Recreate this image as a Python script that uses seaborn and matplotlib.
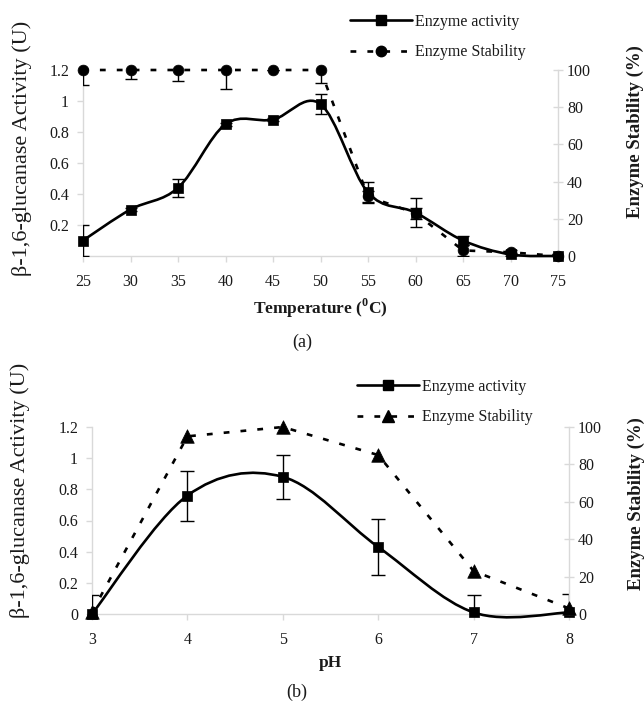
import numpy as np
import pandas as pd
import matplotlib
matplotlib.use("Agg")
import matplotlib.pyplot as plt
from matplotlib.path import Path
from matplotlib.patches import PathPatch
from matplotlib.lines import Line2D
import seaborn as sns

# ---------------- data ----------------
temp = [25, 30, 35, 40, 45, 50, 55, 60, 65, 70, 75]
temp_activity = [0.10, 0.30, 0.44, 0.85, 0.88, 0.98, 0.41, 0.28, 0.10, 0.01, 0.0]
temp_activity_err = [0.10, 0.01, 0.06, 0.01, 0.01, 0.065, 0.065, 0.095, 0.03, 0.01, 0.01]
temp_stability = [100, 100, 100, 100, 100, 100, 32, 23, 3, 2, 0]
temp_stability_err = [8, 5, 6, 10, 0, 7, 3, 3, 3, 1, 1]

ph = [3, 4, 5, 6, 7, 8]
ph_activity = [0.0, 0.76, 0.88, 0.43, 0.01, 0.01]
ph_activity_err = [0.12, 0.16, 0.14, 0.18, 0.11, 0.12]
ph_stability = [1, 95, 100, 85, 23, 3]

act_ticks_a = [0.2, 0.4, 0.6, 0.8, 1.0, 1.2]
act_labels_a = ["0.2", "0.4", "0.6", "0.8", "1", "1.2"]
act_ticks_b = [0, 0.2, 0.4, 0.6, 0.8, 1.0, 1.2]
act_labels_b = ["0", "0.2", "0.4", "0.6", "0.8", "1", "1.2"]
stab_ticks = [0, 20, 40, 60, 80, 100]

# ---------------- style ----------------
sns.set_theme(style="white")
plt.rcParams["font.family"] = ["Liberation Serif", "DejaVu Serif"]
plt.rcParams["mathtext.fontset"] = "custom"
plt.rcParams["mathtext.rm"] = "Liberation Serif"
plt.rcParams["mathtext.bf"] = "Liberation Serif:bold"

GREY = "#d9d9d9"
TXT = "#1a1a1a"
LW = 1.9
DASH = (0, (2.2, 4.2))


def smooth_path(x, y):
    """Excel-style smoothed line: cubic Bezier through the data points."""
    p = np.column_stack([x, y]).astype(float)
    n = len(p)
    verts = [p[0]]
    codes = [Path.MOVETO]
    for i in range(n - 1):
        pm = p[i - 1] if i > 0 else p[i]
        pp = p[i + 2] if i + 2 < n else p[i + 1]
        c1 = p[i] + (p[i + 1] - pm) / 6.0
        c2 = p[i + 1] - (pp - p[i]) / 6.0
        verts += [c1, c2, p[i + 1]]
        codes += [Path.CURVE4] * 3
    return Path(verts, codes)


def style_axes(ax, ax2):
    for a in (ax, ax2):
        a.spines["top"].set_visible(False)
        for s in ("left", "right", "bottom"):
            a.spines[s].set_color(GREY)
            a.spines[s].set_linewidth(1.0)
    ax.spines["right"].set_visible(False)
    ax2.spines["left"].set_visible(False)
    ax2.spines["bottom"].set_visible(False)
    ax.tick_params(axis="y", direction="out", length=4, width=1, color=GREY,
                   pad=6, labelsize=11.5, labelcolor=TXT, left=True)
    ax.tick_params(axis="x", direction="out", length=4, width=1, color=GREY,
                   pad=9, labelsize=11.5, labelcolor=TXT, bottom=True)
    ax2.tick_params(axis="y", direction="inout", length=7, width=1, color=GREY,
                    pad=3, labelsize=11.5, labelcolor=TXT, right=True)


W, H = 644, 705
fig = plt.figure(figsize=(W / 100, H / 100), dpi=100)

# ================= panel (a) =================
axA = fig.add_axes([83 / W, 1 - 256 / H, (558 - 83) / W, (256 - 70) / H])
axA2 = axA.twinx()
axA.set_xlim(25, 75)
axA.set_ylim(0, 1.2)
axA2.set_ylim(0, 100)

dfA = pd.DataFrame({"t": temp, "act": temp_activity, "stab": temp_stability})

axA.add_patch(PathPatch(smooth_path(temp, temp_activity), fill=False, lw=LW,
                        edgecolor="black", zorder=3, clip_on=False))
sns.lineplot(data=dfA, x="t", y="stab", ax=axA2, color="black", lw=LW,
             linestyle=DASH, zorder=3, clip_on=False)
axA.errorbar(temp, temp_activity, yerr=temp_activity_err, fmt="none", ecolor="black",
             elinewidth=1.0, capsize=4, capthick=1.0, zorder=4)
axA2.errorbar(temp, temp_stability, yerr=temp_stability_err, fmt="none", ecolor="black",
              elinewidth=1.0, capsize=4, capthick=1.0, zorder=4)
sns.scatterplot(data=dfA, x="t", y="act", marker="s", s=45, color="black",
                edgecolor="black", linewidth=0.5, ax=axA, zorder=5, clip_on=False)
sns.scatterplot(data=dfA, x="t", y="stab", marker="o", s=60, color="black",
                edgecolor="black", linewidth=0.5, ax=axA2, zorder=5, clip_on=False)

axA.set_xticks(temp)
axA.set_xticklabels([str(t) for t in temp])
axA.set_yticks(act_ticks_a)
axA.set_yticklabels(act_labels_a)
axA2.set_yticks(stab_ticks)
axA2.set_yticklabels([str(v) for v in stab_ticks])
style_axes(axA, axA2)

axA.set_xlabel(r"Temperature ($^{\mathbf{0}}$C)", fontsize=12.5, fontweight="bold",
               color=TXT, labelpad=5)
axA.set_ylabel("β-1,6-glucanase Activity (U)", fontsize=16, color=TXT)
axA.yaxis.set_label_coords(-0.107, 0.58)
axA2.set_ylabel("Enzyme Stability (%)", fontsize=13.5, fontweight="bold", color=TXT,
                rotation=90)
axA2.yaxis.set_label_coords(1.145, 0.67)
fig.text(302 / W, 1 - 342 / H, "(a)", ha="center", va="center", fontsize=13, color=TXT)

# ================= panel (b) =================
axB = fig.add_axes([92 / W, 1 - 614 / H, (569 - 92) / W, (614 - 427) / H])
axB2 = axB.twinx()
axB.set_xlim(3, 8)
axB.set_ylim(0, 1.2)
axB2.set_ylim(0, 100)

dfB = pd.DataFrame({"ph": ph, "act": ph_activity, "stab": ph_stability})

axB.add_patch(PathPatch(smooth_path(ph, ph_activity), fill=False, lw=LW,
                        edgecolor="black", zorder=3, clip_on=False))
sns.lineplot(data=dfB, x="ph", y="stab", ax=axB2, color="black", lw=LW,
             linestyle=DASH, zorder=3, clip_on=False)
axB.errorbar(ph, ph_activity, yerr=ph_activity_err, fmt="none", ecolor="black",
             elinewidth=1.0, capsize=5, capthick=1.0, zorder=4)
sns.scatterplot(data=dfB, x="ph", y="act", marker="s", s=45, color="black",
                edgecolor="black", linewidth=0.5, ax=axB, zorder=5, clip_on=False)
sns.scatterplot(data=dfB, x="ph", y="stab", marker="^", s=95, color="black",
                edgecolor="black", linewidth=0.5, ax=axB2, zorder=5, clip_on=False)

axB.set_xticks(ph)
axB.set_xticklabels([str(v) for v in ph])
axB.set_yticks(act_ticks_b)
axB.set_yticklabels(act_labels_b)
axB2.set_yticks(stab_ticks)
axB2.set_yticklabels([str(v) for v in stab_ticks])
style_axes(axB, axB2)

axB.set_xlabel("pH", fontsize=12.5, fontweight="bold", color=TXT, labelpad=5)
axB.set_ylabel("β-1,6-glucanase Activity (U)", fontsize=16, color=TXT)
axB.yaxis.set_label_coords(-0.13, 0.663)
axB2.set_ylabel("Enzyme Stability (%)", fontsize=13.5, fontweight="bold", color=TXT,
                rotation=90)
axB2.yaxis.set_label_coords(1.122, 0.588)
fig.text(297 / W, 1 - 692 / H, "(b)", ha="center", va="center", fontsize=13, color=TXT)

# ---------------- legends ----------------
def make_legend(marker, ms, anchor):
    handles = [
        Line2D([], [], color="black", lw=LW, marker="s", markersize=6.5),
        Line2D([], [], color="black", lw=LW, linestyle=DASH, marker=marker,
               markersize=ms),
    ]
    fig.legend(handles, ["Enzyme activity", "Enzyme Stability"], loc="upper left",
               bbox_to_anchor=anchor, frameon=False, fontsize=11.5, handlelength=3.9,
               handletextpad=0.15, labelspacing=0.9, borderpad=0, borderaxespad=0,
               labelcolor=TXT)

make_legend("o", 7.5, (350 / W, 1 - 14 / H))
make_legend("^", 8.5, (357 / W, 1 - 379 / H))

fig.savefig("out.png", dpi=100)
